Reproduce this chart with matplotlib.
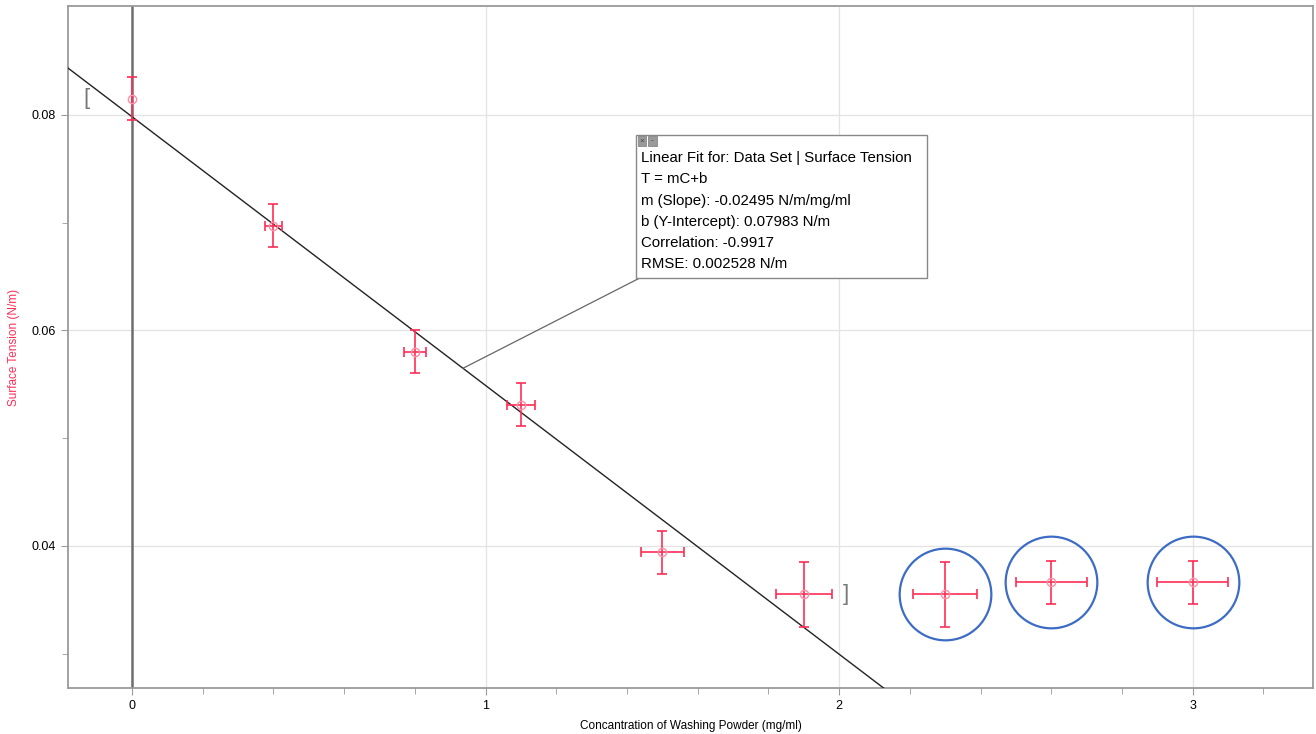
import matplotlib
matplotlib.use('Agg')
import matplotlib.pyplot as plt
from matplotlib.patches import Rectangle
from matplotlib.ticker import FixedLocator

plt.rcParams['font.family'] = ['Liberation Sans', 'DejaVu Sans']

# concentration (mg/ml) and surface tension (N/m), with uncertainties
conc = [0.0, 0.4, 0.8, 1.1, 1.5, 1.9, 2.3, 2.6, 3.0]
tension = [0.0815, 0.0697, 0.0580, 0.0531, 0.0394, 0.0355, 0.0355, 0.0366, 0.0366]
conc_err = [0.0, 0.025, 0.03, 0.04, 0.06, 0.08, 0.09, 0.10, 0.10]
tension_err = [0.002, 0.002, 0.002, 0.002, 0.002, 0.003, 0.003, 0.002, 0.002]

# linear fit shown in the box
slope = -0.02495
intercept = 0.07983
fit_lines = ['Linear Fit for: Data Set | Surface Tension',
             'T = mC+b',
             'm (Slope): -0.02495 N/m/mg/ml',
             'b (Y-Intercept): 0.07983 N/m',
             'Correlation: -0.9917',
             'RMSE: 0.002528 N/m']
n_fit = 6          # points used for the fit
circled = [6, 7, 8]  # outliers circled in blue

x_major = [0, 1, 2, 3]
x_minor = [0.2, 0.4, 0.6, 0.8, 1.2, 1.4, 1.6, 1.8, 2.2, 2.4, 2.6, 2.8, 3.2]
y_major = [0.04, 0.06, 0.08]
y_minor = [0.03, 0.05, 0.07]

red = '#ff2d55'
xmin, xmax = -0.181, 3.34
ymin, ymax = 0.0268, 0.0901

fig = plt.figure(figsize=(13.16, 7.34), dpi=100)
ax = fig.add_axes([0.0517, 0.0627, 0.946, 0.929])
ax.set_xlim(xmin, xmax)
ax.set_ylim(ymin, ymax)

ax.xaxis.set_major_locator(FixedLocator(x_major))
ax.xaxis.set_minor_locator(FixedLocator(x_minor))
ax.yaxis.set_major_locator(FixedLocator(y_major))
ax.yaxis.set_minor_locator(FixedLocator(y_minor))
ax.yaxis.set_major_formatter(plt.FuncFormatter(lambda v, p: '%.2f' % v))
ax.grid(True, which='major', color='#e3e3e3', lw=0.9)
ax.set_axisbelow(True)
for s in ax.spines.values():
    s.set_color('#9a9a9a')
    s.set_linewidth(1.3)
ax.tick_params(which='both', direction='out', colors='#9a9a9a', labelcolor='black', labelsize=9)
ax.tick_params(which='major', length=5)
ax.tick_params(which='minor', length=4)

ax.axvline(0, color='#6e6e6e', lw=1.8, zorder=2)

# fit line across whole view
ax.plot([xmin, xmax], [intercept + slope * xmin, intercept + slope * xmax],
        color='#222222', lw=1.0, zorder=3)

ax.errorbar(conc, tension, xerr=conc_err, yerr=tension_err, fmt='none',
            ecolor=red, elinewidth=1.2, capsize=3.5, capthick=1.2, zorder=4)
ax.plot(conc, tension, 'o', mfc='none', mec='#ff8fa6', ms=6, mew=1.0, zorder=5)

ax.plot([conc[i] for i in circled], [tension[i] for i in circled], 'o',
        mfc='none', mec='#3d6cc4', ms=66, mew=1.6, zorder=5)

# fit range brackets
ax.text(conc[0] - 0.13, tension[0], '[', color='#777777', fontsize=16,
        ha='center', va='center')
ax.text(conc[n_fit - 1] + 0.12, tension[n_fit - 1], ']', color='#777777', fontsize=16,
        ha='center', va='center')

# fit info box
bx0, bx1, by0, by1 = 0.456, 0.690, 0.601, 0.811
ax.add_patch(Rectangle((bx0, by0), bx1 - bx0, by1 - by0, transform=ax.transAxes,
                       facecolor='white', edgecolor='#888888', lw=1.0, zorder=6))
for k, sym in enumerate(['×', '-']):
    ax.add_patch(Rectangle((bx0 + 0.0015 + k * 0.0085, by1 - 0.0155), 0.0068, 0.0138,
                           transform=ax.transAxes, facecolor='#9a9a9a',
                           edgecolor='#7a7a7a', lw=0.5, zorder=7))
    ax.text(bx0 + 0.0049 + k * 0.0085, by1 - 0.0086, sym, transform=ax.transAxes,
            ha='center', va='center', fontsize=6, color='#444444', zorder=8)
ax.text(bx0 + 0.0042, by1 - 0.0235, '\n'.join(fit_lines), transform=ax.transAxes,
        ha='left', va='top', fontsize=10.8, linespacing=1.66, zorder=7)
xc = 0.936
ax.annotate('', xy=(xc, intercept + slope * xc), xytext=(bx0 + 0.003, by0),
            textcoords='axes fraction',
            arrowprops=dict(arrowstyle='-', color='#666666', lw=0.9,
                            shrinkA=0, shrinkB=0), zorder=5)

ax.set_xlabel('Concantration of Washing Powder (mg/ml)', fontsize=8.5, labelpad=6)
ax.set_ylabel('Surface Tension (N/m)', fontsize=8.5, color=red)
ax.yaxis.set_label_coords(-0.0386, 0.5)

fig.savefig('out.png', dpi=100)
